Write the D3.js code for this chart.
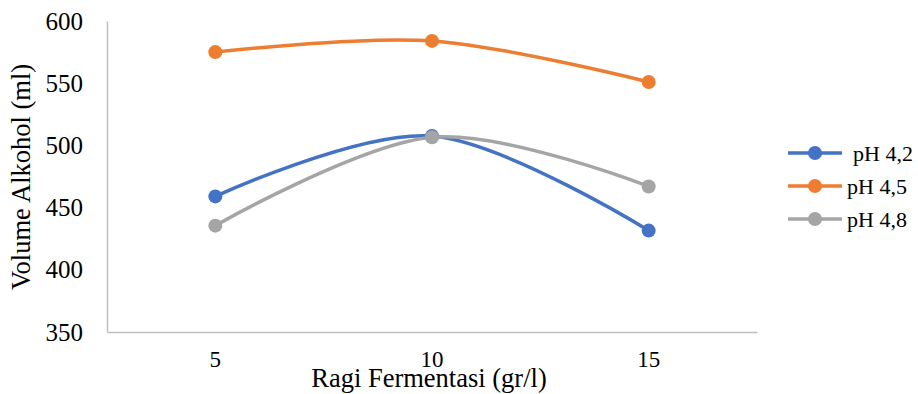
<!DOCTYPE html>
<html>
<head>
<meta charset="utf-8">
<script src="https://cdn.jsdelivr.net/npm/d3@7"></script>
<style>
  html, body { margin: 0; padding: 0; background: #fff; }
  svg { display: block; }
  svg text { font-family: "Liberation Serif", "Times New Roman", serif; fill: #000; }
</style>
</head>
<body>
<svg id="chart" width="918" height="394"></svg>
<script>
// Alcohol volume by fermentation yeast dose, one series per pH level
const categories = ["5", "10", "15"];
const seriesNames = ["pH 4,2", "pH 4,5", "pH 4,8"];
const ph42 = [459, 507.5, 431.5];
const ph45 = [575, 584, 551];
const ph48 = [435.5, 506.5, 467];
const yTicks = [350, 400, 450, 500, 550, 600];
const colors = ["#4472C4", "#ED7D31", "#A5A5A5"];

const series = [ph42, ph45, ph48].map((vals, i) => ({ name: seriesNames[i], values: vals, color: colors[i] }));

const serif = "'Liberation Serif', 'Times New Roman', serif";
const svg = d3.select("#chart");
const m = { left: 107, top: 21, right: 161, bottom: 62 };
const W = 918, H = 394;

const x = d3.scaleBand().domain(categories).range([m.left, W - m.right]);
const y = d3.scaleLinear().domain([350, 600]).range([H - m.bottom, m.top]);

// axes
const yAxis = svg.append("g")
  .attr("transform", `translate(${m.left},0)`)
  .call(d3.axisLeft(y).tickValues(yTicks).tickSize(0).tickPadding(24));
yAxis.attr("font-family", null).attr("font-size", null);
yAxis.select(".domain").attr("stroke", "#BFBFBF").attr("stroke-width", 1.5);
yAxis.selectAll(".tick text")
  .style("font-family", serif)
  .style("font-size", "25px");

const xAxis = svg.append("g")
  .attr("transform", `translate(0,${H - m.bottom})`)
  .call(d3.axisBottom(x).tickSize(0).tickPadding(19));
xAxis.attr("font-family", null).attr("font-size", null);
xAxis.select(".domain").attr("stroke", "#BFBFBF").attr("stroke-width", 1.5);
xAxis.selectAll(".tick text")
  .style("font-family", serif)
  .style("font-size", "23px");

// axis titles
svg.append("text")
  .attr("x", 429).attr("y", 387)
  .attr("text-anchor", "middle")
  .style("font-family", serif)
  .style("font-size", "26.5px")
  .text("Ragi Fermentasi (gr/l)");

svg.append("text")
  .attr("transform", "translate(30,177) rotate(-90)")
  .attr("text-anchor", "middle")
  .style("font-family", serif)
  .style("font-size", "26.5px")
  .text("Volume Alkohol (ml)");

// smoothed series lines with markers
const line = d3.line()
  .x((d, i) => x(categories[i]) + x.bandwidth() / 2)
  .y(d => y(d))
  .curve(d3.curveCardinal.tension(0));

const g = svg.append("g");
series.forEach(s => {
  g.append("path")
    .attr("d", line(s.values))
    .attr("fill", "none")
    .attr("stroke", s.color)
    .attr("stroke-width", 3.5)
    .attr("stroke-linecap", "round");
});
series.forEach(s => {
  g.selectAll(null).data(s.values).enter().append("circle")
    .attr("cx", (d, i) => x(categories[i]) + x.bandwidth() / 2)
    .attr("cy", d => y(d))
    .attr("r", 7)
    .attr("fill", s.color);
});

// legend
const legend = svg.append("g");
const textX = [853, 847, 847];
series.forEach((s, i) => {
  const ly = 153 + i * 33;
  legend.append("line")
    .attr("x1", 788).attr("x2", 842).attr("y1", ly).attr("y2", ly)
    .attr("stroke", s.color).attr("stroke-width", 3.5);
  legend.append("circle").attr("cx", 815).attr("cy", ly).attr("r", 7).attr("fill", s.color);
  legend.append("text")
    .attr("x", textX[i]).attr("y", ly + 8)
    .style("font-family", serif)
    .style("font-size", "22px")
    .text(s.name);
});
</script>
</body>
</html>
